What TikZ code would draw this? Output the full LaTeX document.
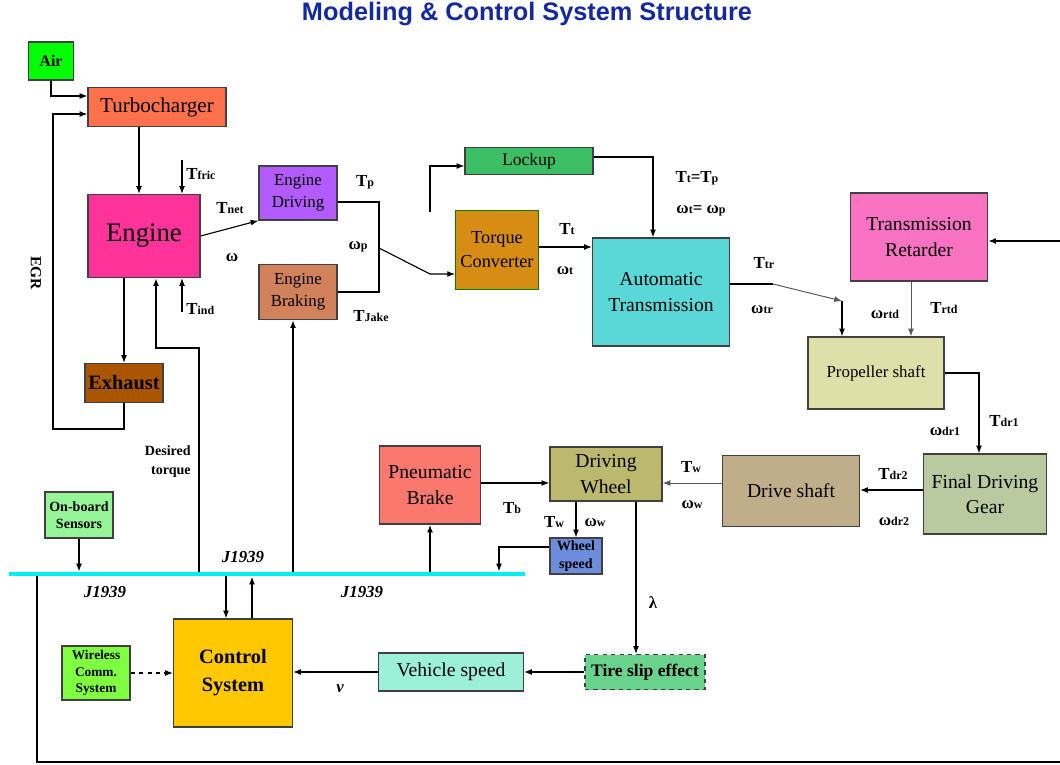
\documentclass[tikz,border=0pt]{standalone}
\usepackage{fontspec}
\setmainfont{Liberation Serif}
\newfontfamily\titlefont{Liberation Sans}
\usetikzlibrary{arrows.meta}

\newcommand{\setfs}[2]{\fontsize{#1}{#2}\selectfont}
\newcommand{\sig}[2]{#1{\setfs{8.5}{9}#2}}

\definecolor{titleblue}{RGB}{20, 40, 160}
\definecolor{aircol}{RGB}{0, 255, 0}
\definecolor{turbocol}{RGB}{255, 112, 77}
\definecolor{enginecol}{RGB}{255, 51, 153}
\definecolor{drivecol}{RGB}{178, 92, 255}
\definecolor{brakecol}{RGB}{210, 130, 90}
\definecolor{exhaustcol}{RGB}{170, 85, 0}
\definecolor{lockupcol}{RGB}{60, 190, 100}
\definecolor{tccol}{RGB}{215, 140, 20}
\definecolor{atcol}{RGB}{90, 215, 215}
\definecolor{retcol}{RGB}{250, 115, 195}
\definecolor{propcol}{RGB}{222, 224, 170}
\definecolor{fdgcol}{RGB}{185, 202, 160}
\definecolor{shaftcol}{RGB}{192, 174, 138}
\definecolor{wheelcol}{RGB}{188, 184, 110}
\definecolor{pbrakecol}{RGB}{250, 120, 110}
\definecolor{wspeedcol}{RGB}{110, 140, 220}
\definecolor{sensorcol}{RGB}{150, 245, 150}
\definecolor{ctrlcol}{RGB}{255, 200, 0}
\definecolor{wirelesscol}{RGB}{128, 255, 64}
\definecolor{vspeedcol}{RGB}{155, 240, 215}
\definecolor{slipcol}{RGB}{105, 210, 140}
\definecolor{buscol}{RGB}{0, 240, 240}

\begin{document}
\begin{tikzpicture}[x = 0.025cm, y = -0.025cm, > = {Latex[length = 5.5pt, width = 4.2pt]},
	blk/.style = {draw = black!75, line width = 0.9pt, align = center, inner sep = 1pt},
	sz/.style 2 args = {minimum width = #1*\pxl, minimum height = #2*\pxl},
	lbl/.style = {font = \bfseries\setfs{12}{14}, inner sep = 0pt},
	wire/.style = {line width = 0.8pt},
	thick wire/.style = {line width = 1.4pt},
	gray wire/.style = {draw = black!65, line width = 0.7pt}]

	% Definitions

	\def\pxl{0.025cm}		% one pixel of the layout grid

	\useasboundingbox (0, 0) rectangle (1060, 764);

	\node (title) [font = \titlefont\bfseries\setfs{18}{20}, text = titleblue] at (527, 14) {Modeling \& Control System Structure};

	% Engine

	\node (air) [blk, sz = {45}{38}, fill = aircol, font = \bfseries\setfs{11.5}{13}] at (51, 61) {Air};
	\node (turbo) [blk, sz = {138}{39}, fill = turbocol, font = \setfs{15}{17}] at (157, 107) {Turbocharger};
	\node (engine) [blk, sz = {112}{83}, fill = enginecol, font = \setfs{19}{20}] at (144, 236) {Engine};
	\node (drive) [blk, sz = {78}{54}, fill = drivecol, font = \setfs{12}{15.5}] at (298, 193) {Engine\\Driving};
	\node (brake) [blk, sz = {78}{55}, fill = brakecol, font = \setfs{12}{15.5}] at (298, 292) {Engine\\Braking};
	\node (exhaust) [blk, sz = {78}{39}, fill = exhaustcol, font = \bfseries\setfs{14.5}{16}] at (124, 383) {Exhaust};

	\coordinate (egr) at (53, 429);
	\coordinate (fric) at (182, 160);
	\coordinate (ind) at (182, 312);
	\coordinate (dt) at (199, 348);

	\draw [->, wire] (air.south) |- (turbo.west |- 0, 96);
	\draw [->, wire] (exhaust.south) |- (egr) |- (turbo.west |- 0, 114);
	\draw [->, wire] (turbo.south -| 139, 0) -- (engine.north -| 139, 0);
	\draw [->, wire] (fric) -- (engine.north -| fric);
	\draw [->, wire] (ind) -- (engine.south -| ind);
	\draw [->, wire] (engine.south -| exhaust.north) -- (exhaust.north);
	\draw [->, wire] (engine.east) -- (drive.south west);

	\node (legr) [lbl, font = \bfseries\setfs{11}{12}, rotate = -90] at (36, 273) {EGR};
	\node (lfric) [lbl, anchor = west] at (186, 174) {\sig{T}{fric}};
	\node (lnet) [lbl] at (230, 208) {\sig{T}{net}};
	\node (lom) [lbl] at (232, 258) {ω};
	\node (lind) [lbl, anchor = west] at (186, 309) {\sig{T}{ind}};
	\node (ldt) [lbl, anchor = east, align = right, font = \bfseries\setfs{10}{13.5}] at (191, 462) {Desired\\torque};

	% Driveline

	\node (lockup) [blk, sz = {128}{27}, fill = lockupcol, font = \setfs{12.5}{14}] at (529, 161) {Lockup};
	\node (tc) [blk, draw = green!50!black, line width = 0.6pt, sz = {83}{79}, fill = tccol, font = \setfs{13}{17}] at (497, 250) {Torque\\Converter};
	\node (at) [blk, sz = {137}{108}, fill = atcol, font = \setfs{14}{18}] at (661, 292) {Automatic\\Transmission};
	\node (ret) [blk, sz = {137}{88}, fill = retcol, font = \setfs{14}{18}] at (919, 237) {Transmission\\Retarder};
	\node (prop) [blk, sz = {136}{72}, fill = propcol, font = \setfs{12}{14}] at (876, 373) {Propeller shaft};
	\node (fdg) [blk, sz = {123}{80}, fill = fdgcol, font = \setfs{14}{18}] at (985, 494) {Final Driving\\Gear};
	\node (shaft) [blk, sz = {137}{71}, fill = shaftcol, font = \setfs{14}{16}] at (791, 491) {Drive shaft};
	\node (wheel) [blk, sz = {112}{54}, fill = wheelcol, font = \setfs{14}{18}] at (606, 474) {Driving\\Wheel};
	\node (pbrake) [blk, sz = {101}{78}, fill = pbrakecol, font = \setfs{14}{18}] at (430, 485) {Pneumatic\\Brake};
	\node (wspeed) [blk, sz = {52}{36}, fill = wspeedcol, font = \bfseries\setfs{10}{12.5}] at (576, 556) {Wheel\\speed};

	\coordinate (pj) at (379, 248);
	\coordinate (tcin) at (430, 274);
	\coordinate (lk) at (430, 212);
	\coordinate (trk) at (773, 284);
	\coordinate (trc) at (842, 301);

	\draw [wire] (drive.east |- 0, 202) -| (pj) |- (brake.east);
	\draw [->, wire] (pj) -- (tcin) -- (tc.west |- tcin);
	\draw [->, wire] (lk) |- (lockup.west |- 0, 166);
	\draw [->, wire] (lockup.east |- 0, 157) -| (at.north -| 653, 0);
	\draw [->, wire] (tc.east |- 0, 247) -- (at.west |- 0, 247);
	\draw [wire] (at.east |- trk) -- (trk);
	\draw [->, gray wire] (trk) -- (trc);
	\draw [->, wire] (trc) -- (prop.north -| trc);
	\draw [->, gray wire] (ret.south -| 911, 0) -- (prop.north -| 911, 0);
	\draw [->, wire] (prop.east) -| (fdg.north -| 979, 0);
	\draw [->, wire] (fdg.west |- 0, 490) -- (shaft.east |- 0, 490);
	\draw [->, gray wire] (shaft.west |- 0, 483) -- (wheel.east |- 0, 483);
	\draw [->, wire] (pbrake.east |- 0, 483) -- (wheel.west |- 0, 483);
	\draw [->, wire] (wheel.south -| wspeed.north) -- (wspeed.north);

	\node (lp) [lbl] at (365, 182) {\sig{T}{p}};
	\node (lwp) [lbl] at (358, 247) {\sig{ω}{p}};
	\node (ljake) [lbl] at (371, 316) {\sig{T}{Jake}};
	\node (leq) [lbl] at (697, 178) {\sig{T}{t}=\sig{T}{p}};
	\node (lweq) [lbl] at (701, 211) {\sig{ω}{t}= \sig{ω}{p}};
	\node (lt) [lbl] at (567, 229) {\sig{T}{t}};
	\node (lwt) [lbl] at (565, 271) {\sig{ω}{t}};
	\node (ltr) [lbl] at (764, 263) {\sig{T}{tr}};
	\node (lwtr) [lbl] at (762, 310) {\sig{ω}{tr}};
	\node (lwrtd) [lbl] at (885, 314) {\sig{ω}{rtd}};
	\node (lrtd) [lbl] at (944, 308) {\sig{T}{rtd}};
	\node (ldr1) [lbl] at (1004, 421) {\sig{T}{dr1}};
	\node (lwdr1) [lbl] at (945, 431) {\sig{ω}{dr1}};
	\node (ldr2) [lbl] at (893, 474) {\sig{T}{dr2}};
	\node (lwdr2) [lbl] at (894, 521) {\sig{ω}{dr2}};
	\node (lw) [lbl] at (691, 467) {\sig{T}{w}};
	\node (lww) [lbl] at (692, 505) {\sig{ω}{w}};
	\node (lb) [lbl] at (512, 508) {\sig{T}{b}};
	\node (lw2) [lbl] at (554, 522) {\sig{T}{w}};
	\node (lww2) [lbl] at (595, 523) {\sig{ω}{w}};
	\node (llam) [lbl] at (653, 603) {λ};

	% Control

	\node (sensors) [blk, sz = {68}{46}, fill = sensorcol, font = \bfseries\setfs{10}{12.5}] at (79, 515) {On-board\\Sensors};
	\node (ctrl) [blk, sz = {119}{108}, fill = ctrlcol, font = \bfseries\setfs{14.5}{20}] at (233, 673) {Control\\System};
	\node (wireless) [blk, sz = {68}{54}, fill = wirelesscol, font = \bfseries\setfs{9.5}{11.7}] at (96, 673) {Wireless\\Comm.\\System};
	\node (vspeed) [blk, sz = {145}{38}, fill = vspeedcol, font = \setfs{14}{16}] at (451, 672) {Vehicle speed};
	\node (slip) [blk, dashed, sz = {120}{35}, fill = slipcol, font = \bfseries\setfs{12.5}{14}] at (645, 672) {Tire slip effect};

	\coordinate (busL) at (9, 574);
	\coordinate (busR) at (525, 574);
	\coordinate (ws) at (499, 547);
	\coordinate (loopA) at (37, 762);
	\coordinate (loopB) at (1062, 762);
	\coordinate (loopC) at (1062, 241);

	\draw [->, thick wire] (busL -| dt) -- (dt) -| (engine.south -| 156, 0);
	\draw [->, thick wire] (busL -| 293, 0) -- (brake.south -| 293, 0);
	\draw [->, thick wire] (busL -| pbrake.south) -- (pbrake.south);
	\draw [->, wire, shorten > = 1.8pt] (wspeed.west |- ws) -- (ws) -- (busL -| ws);
	\draw [->, wire, shorten > = 1.8pt] (sensors.south) -- (busL -| sensors.south);
	\draw [->, wire] (busL -| 226, 0) -- (ctrl.north -| 226, 0);
	\draw [->, thick wire, shorten > = 1.8pt] (ctrl.north -| 252, 0) -- (busL -| 252, 0);
	\draw [->, wire] (wheel.south -| 636, 0) -- (slip.north -| 636, 0);
	\draw [->, wire] (slip.west) -- (vspeed.east);
	\draw [->, wire] (vspeed.west) -- (ctrl.east |- vspeed.west);
	\draw [->, wire, dashed] (wireless.east) -- (ctrl.west |- wireless.east);
	\draw [->, thick wire] (busL -| loopA) -- (loopA) -- (loopB) -- (loopC) -- (ret.east |- loopC);

	% Draw bus

	\draw [buscol, line width = 3.5pt] (busL) -- (busR);

	\node (lbus1) [lbl, font = \bfseries\itshape\setfs{12}{14}] at (105, 592) {J1939};
	\node (lbus2) [lbl, font = \bfseries\itshape\setfs{12}{14}] at (243, 557) {J1939};
	\node (lbus3) [lbl, font = \bfseries\itshape\setfs{12}{14}] at (362, 592) {J1939};
	\node (lv) [lbl, font = \bfseries\itshape\setfs{12}{14}] at (340, 689) {v};

\end{tikzpicture}
\end{document}
